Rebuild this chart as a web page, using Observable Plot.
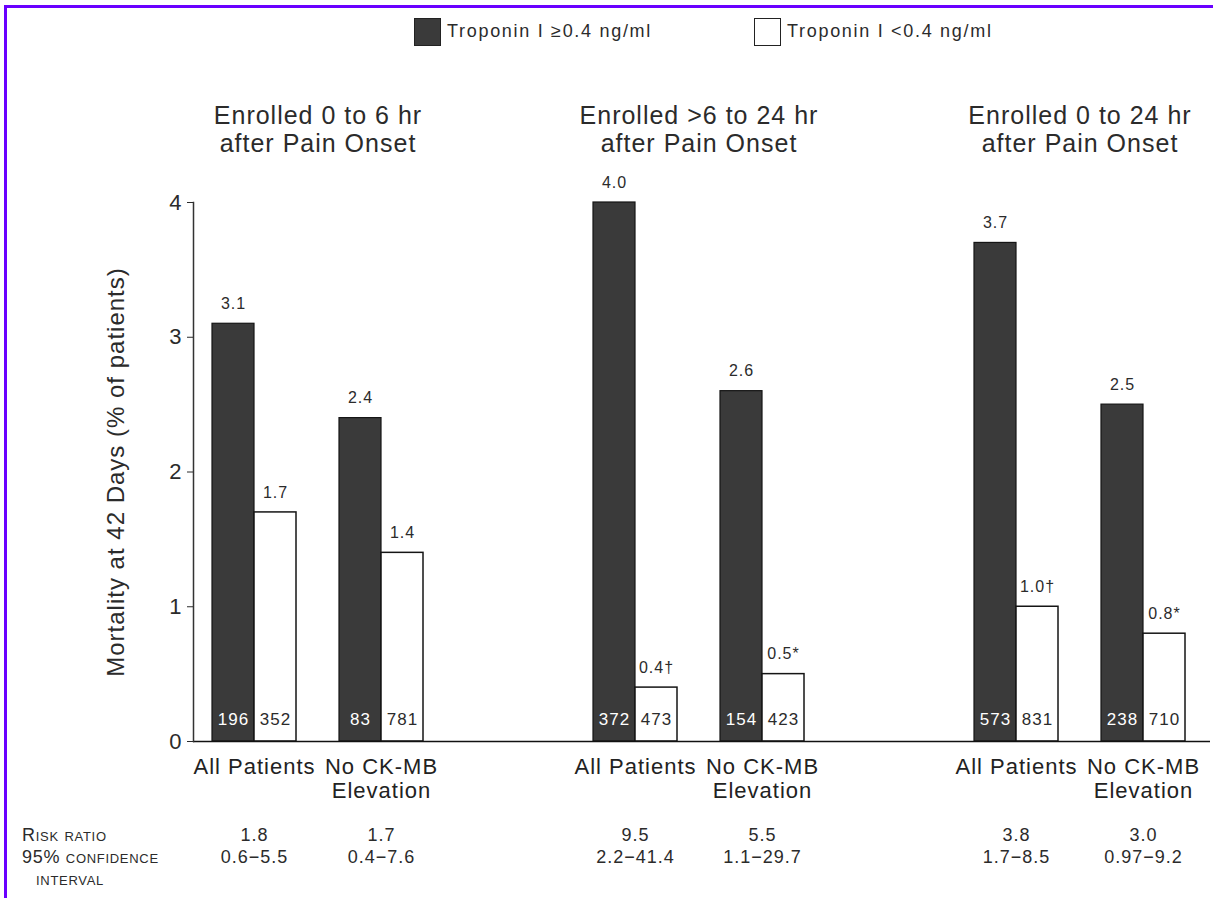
<!DOCTYPE html>
<html>
<head>
<meta charset="utf-8">
<script src="https://cdn.jsdelivr.net/npm/d3@7"></script>
<script src="https://cdn.jsdelivr.net/npm/@observablehq/plot@0.6"></script>
<style>
  html, body { margin: 0; padding: 0; background: #fff; }
  #wrap { position: relative; width: 1213px; height: 898px; overflow: hidden; font-family: "Liberation Sans", Arial, sans-serif; color: #2b2b2b; }
  #wrap svg { position: absolute; left: 0; top: 0; }
  .border-top { position: absolute; left: 4px; top: 5px; width: 1209px; height: 3px; background: #6a00ff; }
  .border-left { position: absolute; left: 4px; top: 5px; width: 3px; height: 893px; background: #6a00ff; }
  .legend { position: absolute; top: 17px; height: 29px; display: flex; align-items: center; font-size: 18px; letter-spacing: 1.7px; }
  .sw { width: 27px; height: 28px; border: 1.5px solid #222; margin-right: 6px; box-sizing: border-box; }
  .rowlab { position: absolute; font-size: 18px; font-variant: small-caps; letter-spacing: 0.7px; line-height: 22px; }
</style>
</head>
<body>
<div id="wrap">
  <div class="border-top"></div>
  <div class="border-left"></div>
</div>
<script>
// ---- data ----
const groups = ["Enrolled 0 to 6 hr\nafter Pain Onset", "Enrolled >6 to 24 hr\nafter Pain Onset", "Enrolled 0 to 24 hr\nafter Pain Onset"];
const categories = ["All Patients", "No CK-MB\nElevation"];
const seriesNames = ["Troponin I \u22650.4 ng/ml", "Troponin I <0.4 ng/ml"];
const highValues = [3.1, 2.4, 4.0, 2.6, 3.7, 2.5];
const lowValues = [1.7, 1.4, 0.4, 0.5, 1.0, 0.8];
const lowMarks = ["", "", "\u2020", "*", "\u2020", "*"];
const highN = [196, 83, 372, 154, 573, 238];
const lowN = [352, 781, 473, 423, 831, 710];
const riskRatio = ["1.8", "1.7", "9.5", "5.5", "3.8", "3.0"];
const confInt = ["0.6\u22125.5", "0.4\u22127.6", "2.2\u221241.4", "1.1\u221229.7", "1.7\u22128.5", "0.97\u22129.2"];
const yTicks = [0, 1, 2, 3, 4];
const yLabel = "Mortality at 42 Days (% of patients)";

// ---- build table ----
const rows = [];
groups.forEach((g, gi) => categories.forEach((c, ci) => {
  const i = gi * categories.length + ci;
  rows.push({key: gi + "|" + ci, group: g, cat: c, high: highValues[i], low: lowValues[i],
    lowMark: lowMarks[i], nHigh: highN[i], nLow: lowN[i], rr: riskRatio[i], ci: confInt[i]});
}));
const domain = [];
groups.forEach((g, gi) => {
  if (gi > 0) domain.push("gap" + gi);
  categories.forEach((c, ci) => domain.push(gi + "|" + ci));
});
const titleRows = groups.map((g, gi) => ({key: gi + "|0", title: g}));

const ink = "#2b2b2b";
const plot = Plot.plot({
  width: 1213,
  height: 898,
  marginTop: 202,
  marginBottom: 157,
  marginLeft: 193,
  marginRight: 13,
  style: {fontFamily: "'Liberation Sans', Arial, sans-serif", letterSpacing: "1px", color: ink, background: "transparent"},
  x: {type: "band", domain, paddingInner: 0.339, paddingOuter: 0.134, align: 0.57, axis: null},
  y: {domain: [0, 4], axis: null},
  marks: [
    Plot.barY(rows, {x: "key", y: "high", fill: "#3a3a3a", stroke: "#151515", strokeWidth: 1.2, insetRight: 42}),
    Plot.barY(rows, {x: "key", y: "low", fill: "white", stroke: "#151515", strokeWidth: 1.5, insetLeft: 42}),
    Plot.ruleY([0], {stroke: "#111", strokeWidth: 1.5, insetRight: -10}),
    Plot.frame({anchor: "left", stroke: "#333", strokeWidth: 1.5}),
    Plot.axisY({ticks: yTicks, tickFormat: d => String(d), tickSize: 6, tickPadding: 5, fontSize: 22, label: null, color: ink}),
    Plot.axisY({ticks: [], label: yLabel, labelAnchor: "center", labelArrow: "none", labelOffset: 87, fontSize: 24, color: ink}),
    // values above bars
    Plot.text(rows, {x: "key", y: "high", text: d => d.high.toFixed(1), dx: -21, dy: -20, fontSize: 16, fill: ink}),
    Plot.text(rows, {x: "key", y: "low", text: d => d.low.toFixed(1) + d.lowMark, dx: 21, dy: -20, fontSize: 16, fill: ink}),
    // counts inside bars
    Plot.text(rows, {x: "key", y: () => 0, text: "nHigh", dx: -21, dy: -22, fontSize: 17, fill: "white"}),
    Plot.text(rows, {x: "key", y: () => 0, text: "nLow", dx: 21, dy: -22, fontSize: 17, fill: ink}),
    // category labels
    Plot.text(rows, {x: "key", text: "cat", frameAnchor: "bottom", lineAnchor: "top", dy: 15, fontSize: 22, lineHeight: 1.1, fill: "#222"}),
    // group titles
    Plot.text(titleRows, {x: "key", text: "title", frameAnchor: "top", lineAnchor: "bottom", dx: 63.5, dy: -51, fontSize: 25, lineHeight: 1.12, fill: ink}),
    // risk ratio + CI
    Plot.text(rows, {x: "key", text: d => d.rr + "\n" + d.ci, frameAnchor: "bottom", lineAnchor: "top", dy: 84, fontSize: 18, lineHeight: 1.22, fill: ink})
  ]
});
const wrap = document.getElementById("wrap");
wrap.insertBefore(plot, wrap.firstChild);

// legend
const legendPos = [414, 754];
seriesNames.forEach((name, i) => {
  const el = document.createElement("div");
  el.className = "legend";
  el.style.left = legendPos[i] + "px";
  const sw = document.createElement("div");
  sw.className = "sw";
  sw.style.background = i === 0 ? "#3a3a3a" : "#fff";
  el.appendChild(sw);
  const t = document.createElement("span");
  t.textContent = name;
  el.appendChild(t);
  wrap.appendChild(el);
});

// row labels for risk ratio table
const rowLabels = [{text: "Risk ratio", x: 22, y: 824}, {text: "95% confidence", x: 22, y: 846}, {text: "interval", x: 36, y: 868}];
rowLabels.forEach(r => {
  const el = document.createElement("div");
  el.className = "rowlab";
  el.style.left = r.x + "px";
  el.style.top = r.y + "px";
  el.textContent = r.text;
  wrap.appendChild(el);
});
</script>
</body>
</html>
